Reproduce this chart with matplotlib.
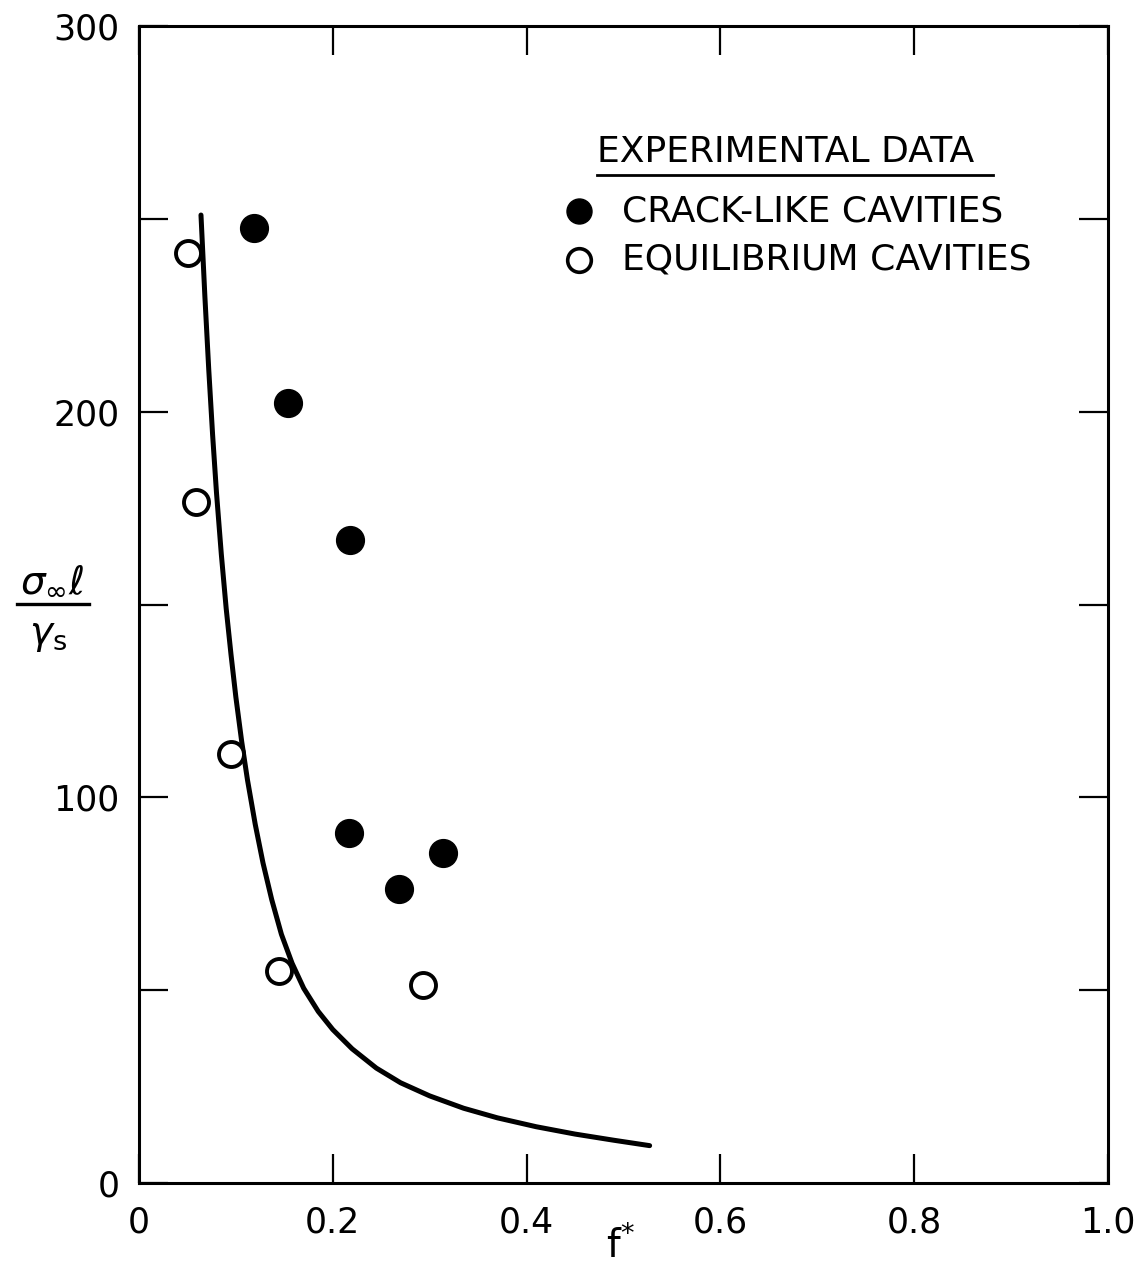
import matplotlib
matplotlib.use("Agg")
import matplotlib.pyplot as plt
from matplotlib.lines import Line2D

# experimental points (f*, sigma*l/gamma_s)
crack_f = [0.119, 0.154, 0.218, 0.217, 0.268, 0.314]
crack_s = [247.6, 202.2, 166.7, 90.7, 76.2, 85.6]

equil_f = [0.051, 0.059, 0.095, 0.145, 0.293]
equil_s = [241.1, 176.6, 111.2, 55.0, 51.3]

# theoretical curve, traced point by point
curve_f = [0.064, 0.068, 0.072, 0.076, 0.080, 0.085, 0.090, 0.095, 0.100,
           0.106, 0.112, 0.120, 0.128, 0.137, 0.147, 0.158, 0.170, 0.185,
           0.200, 0.220, 0.245, 0.270, 0.300, 0.335, 0.370, 0.410, 0.450,
           0.490, 0.527]
curve_s = [251.0, 230.0, 211.0, 194.0, 179.0, 163.0, 149.0, 137.0, 126.0,
           114.5, 104.5, 93.0, 83.0, 73.5, 64.5, 57.0, 50.5, 44.5,
           39.8, 34.8, 29.8, 26.0, 22.6, 19.4, 16.9, 14.6, 12.7,
           11.1, 9.7]

x_ticks = [0, 0.2, 0.4, 0.6, 0.8, 1.0]
x_labels = ["0", "0.2", "0.4", "0.6", "0.8", "1.0"]
y_ticks = [0, 100, 200, 300]
y_minor = [50, 150, 250]

fig = plt.figure(figsize=(11.4, 12.71), dpi=100)
ax = fig.add_axes([0.1219, 0.0692, 0.85, 0.9103])

ax.plot(curve_f, curve_s, color="black", lw=3.6, solid_capstyle="round",
        solid_joinstyle="round")
ax.plot(crack_f, crack_s, "o", ms=20, color="black", mec="black")
ax.plot(equil_f, equil_s, "o", ms=18, mfc="white", mec="black", mew=2.8)

ax.set_xlim(0, 1.0)
ax.set_ylim(0, 300)
ax.set_xticks(x_ticks)
ax.set_xticklabels(x_labels)
ax.set_yticks(y_ticks)
ax.set_yticks(y_minor, minor=True)

for s in ax.spines.values():
    s.set_linewidth(2.2)

ax.tick_params(which="both", direction="in", length=21, width=1.6,
               top=True, right=True, labelsize=25, pad=14)
ax.tick_params(axis="x", pad=16)

# legend drawn by hand, like the original lettering
ax.text(0.4726, 0.891, "EXPERIMENTAL DATA", transform=ax.transAxes,
        fontsize=26, va="center", ha="left")
ax.add_line(Line2D([0.4726, 0.881], [0.871, 0.871], transform=ax.transAxes,
                   color="black", lw=2.0))
ax.plot([0.454], [0.840], "o", ms=18, color="black", transform=ax.transAxes,
        clip_on=False)
ax.text(0.498, 0.840, "CRACK-LIKE CAVITIES", transform=ax.transAxes,
        fontsize=26, va="center", ha="left")
ax.plot([0.454], [0.798], "o", ms=17, mfc="white", mec="black", mew=2.6,
        transform=ax.transAxes, clip_on=False)
ax.text(0.498, 0.798, "EQUILIBRIUM CAVITIES", transform=ax.transAxes,
        fontsize=26, va="center", ha="left")

# y axis label as a stacked fraction
fig.text(0.046, 0.543, r"$\sigma_{\infty}\ell$", fontsize=28, ha="center",
         va="center")
fig.add_artist(Line2D([0.015, 0.078], [0.525, 0.525], transform=fig.transFigure,
                      color="black", lw=2.4))
fig.text(0.042, 0.500, r"$\gamma_{\rm s}$", fontsize=28, ha="center",
         va="center")

# x axis label
fig.text(0.544, 0.020, r"f$^{*}$", fontsize=28, ha="center", va="center")

fig.savefig("out.png", dpi=100)
